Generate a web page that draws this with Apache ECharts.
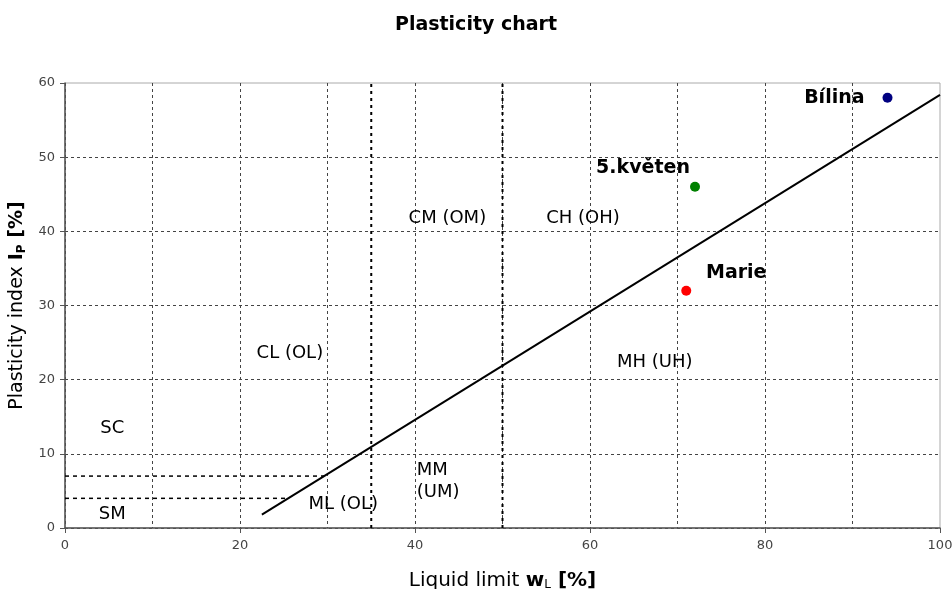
<!DOCTYPE html>
<html><head><meta charset="utf-8">
<script src="https://cdn.jsdelivr.net/npm/echarts@6/dist/echarts.min.js"></script>
<style>html,body{margin:0;padding:0;background:#fff}#c{width:952px;height:589px}</style>
</head><body><div id="c"></div>
<script>
// A-line (Ip vs wL) end points
const aLine = [[22.5, 1.8], [100, 58.4]];
// boundary lines
const vLine35 = [[35, 0], [35, 60]];
const vLine50 = [[50, 0], [50, 60]];
const hLine7 = [[0, 7], [29.6, 7]];
const hLine4 = [[0, 4], [25.5, 4]];
// zone labels
const zoneNames = ['SC', 'SM', 'CL (OL)', 'CM (OM)', 'CH (OH)', 'MH (UH)', 'ML (OL)'];
const zoneX = [5.4, 5.4, 25.7, 43.7, 59.2, 67.4, 31.8];
const zoneY = [13.5, 1.9, 23.5, 41.8, 41.7, 22.4, 3.2];
const mmLabel = 'MM\n(UM)';
const mmPos = [40.2, 6.3];
// samples
const sampleNames = ['Bílina', '5.květen', 'Marie'];
const sampleX = [94, 72, 71];
const sampleY = [58, 46, 32];
const sampleColors = ['#000080', '#008000', '#ff0000'];
const sampleOffsets = [[0, 0], [-52, -19], [50, -18]];

const font = 'DejaVu Sans';
const chart = echarts.init(document.getElementById('c'));
const g = '#444';

const series = [
  { type: 'line', data: aLine, symbol: 'none', lineStyle: { color: '#000', width: 2 }, silent: true, z: 3 },
  { type: 'line', data: vLine35, symbol: 'none', lineStyle: { color: '#000', width: 2, type: [3, 4] }, z: 2 },
  { type: 'line', data: vLine50, symbol: 'none', lineStyle: { color: '#000', width: 2, type: [3, 4] }, z: 2 },
  { type: 'line', data: hLine7, symbol: 'none', lineStyle: { color: '#000', width: 1.5, type: [4, 4] }, z: 2 },
  { type: 'line', data: hLine4, symbol: 'none', lineStyle: { color: '#000', width: 1.5, type: [4, 4] }, z: 2 },
  { type: 'scatter', symbolSize: 0, z: 4, itemStyle: { opacity: 1 },
    data: zoneNames.map((n, i) => ({ value: [zoneX[i], zoneY[i]], name: n })),
    label: { show: true, position: 'inside', formatter: p => p.name, color: '#000', fontFamily: font, fontSize: 18 } },
  { type: 'scatter', symbolSize: 0, z: 4, itemStyle: { opacity: 1 },
    data: [{ value: mmPos, name: mmLabel }],
    label: { show: true, position: 'right', distance: 0, align: 'left', formatter: p => p.name, color: '#000', fontFamily: font, fontSize: 18, lineHeight: 22 } }
];
sampleNames.forEach((n, i) => {
  series.push({ type: 'scatter', symbol: 'circle', symbolSize: 10, z: 5,
    itemStyle: { color: sampleColors[i], opacity: 1 },
    data: [[sampleX[i], sampleY[i]]],
    label: { show: true, formatter: n, fontFamily: font, fontWeight: 'bold', fontSize: 19, color: '#000',
      position: i === 0 ? 'left' : 'inside', distance: 18, offset: sampleOffsets[i] } });
});

chart.setOption({
  animation: false,
  backgroundColor: '#fff',
  title: { text: 'Plasticity chart', left: 'center', top: 11,
    textStyle: { fontFamily: font, fontWeight: 'bold', fontSize: 19, color: '#000' } },
  grid: { left: 65, right: 12, top: 83, bottom: 61, show: true, borderColor: '#aaa', borderWidth: 1,
    backgroundColor: 'transparent', containLabel: false, outerBoundsMode: 'none' },
  xAxis: { type: 'value', min: 0, max: 100, interval: 20,
    name: '{n|Liquid limit }{b|w}{s|L}{b| [%]}', nameLocation: 'middle', nameGap: 42,
    nameTextStyle: { rich: {
      n: { fontFamily: font, fontSize: 20, color: '#000' },
      b: { fontFamily: font, fontSize: 20, fontWeight: 'bold', color: '#000' },
      s: { fontFamily: font, fontSize: 12, color: '#000', padding: [9, 0, 0, 0] } } },
    axisLine: { lineStyle: { color: '#555', width: 1.5 } },
    axisTick: { length: 5, lineStyle: { color: '#555' } },
    axisLabel: { color: '#444', fontFamily: font, fontSize: 13, margin: 11 },
    splitLine: { show: true, lineStyle: { color: [g, g, g, g, g, 'transparent'], type: [3, 3], width: 1 } },
    minorTick: { show: false, splitNumber: 2 },
    minorSplitLine: { show: true, lineStyle: { color: g, type: [3, 3], width: 1 } } },
  yAxis: { type: 'value', min: 0, max: 60, interval: 10,
    name: '{n|Plasticity index }{b|I}{s|P}{b| [%]}', nameLocation: 'middle', nameGap: 34, nameRotate: 90,
    nameTextStyle: { rich: {
      n: { fontFamily: font, fontSize: 19, color: '#000' },
      b: { fontFamily: font, fontSize: 19, fontWeight: 'bold', color: '#000' },
      s: { fontFamily: font, fontSize: 12, fontWeight: 'bold', color: '#000', padding: [9, 0, 0, 0] } } },
    axisLine: { show: true, lineStyle: { color: '#555', width: 1.5 } },
    axisTick: { show: true, length: 5, lineStyle: { color: '#555' } },
    axisLabel: { color: '#444', fontFamily: font, fontSize: 13, margin: 10 },
    splitLine: { show: true, lineStyle: { color: [g, g, g, g, g, g, 'transparent'], type: [3, 3], width: 1 } } },
  series
});
</script></body></html>
